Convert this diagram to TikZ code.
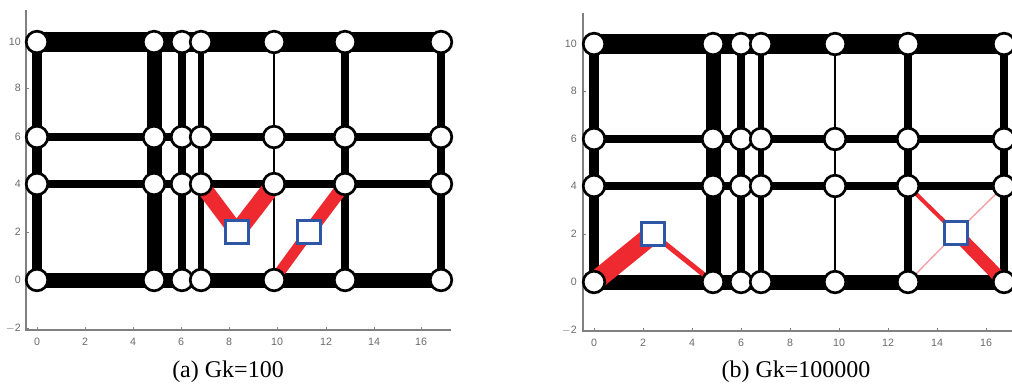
\documentclass[tikz,border=0pt]{standalone}
\usepackage{fontspec}
\setmainfont{Liberation Serif}
\setsansfont{Liberation Sans}
\usetikzlibrary{backgrounds}
\definecolor{axisgray}{HTML}{808080}
\definecolor{ticktext}{HTML}{6A6A6A}
\definecolor{barred}{HTML}{EE2A30}
\definecolor{barpink}{HTML}{F5A3A8}
\definecolor{boxblue}{HTML}{2F55A5}
\tikzset{
	gridnode/.style={circle, draw=black, fill=white, line width=2pt, minimum size=16.2pt, inner sep=0pt},
	loadbox/.style={rectangle, draw=boxblue, fill=white, line width=2.2pt, minimum size=17.6pt, inner sep=0pt},
	ticklabel/.style={font=\sffamily\fontsize{8}{9}\selectfont, text=ticktext, inner sep=0pt},
	caption/.style={font=\fontsize{18}{20}\selectfont, text=black, inner sep=0pt},
	axisline/.style={draw=axisgray, line width=0.8pt},
}
% frame members shared by both panels, widths in image pixels
\newcommand{\gridbars}[1]{%
	\foreach \r/\w in {4/20,3/8,2/8,1/15} {
		\draw[black, line width=\w*0.75pt] (#1-1-\r.center) -- (#1-7-\r.center);
	}
	\foreach \c/\w in {1/10,2/15,3/8,4/6,5/1.4,6/8,7/8} {
		\draw[black, line width=\w*0.75pt] (#1-\c-4.center) -- (#1-\c-1.center);
	}
}
\begin{document}
\begin{tikzpicture}[x=0.75pt,y=-0.75pt]
	\path[use as bounding box] (0,0) rectangle (1012,387);

	% Panel (a): axes.
	\draw[axisline] (26,10) -- (26,330) -- (451,330);
	\foreach \y/\lab in {42/10,88/8,137/6,184/4,232/2,280/0,328/{$-$2}} {
		\draw[axisline, line width=0.5pt] (26,\y) -- (29,\y);
		\node[ticklabel, anchor=east] (alab\y) at (21,\y) {\lab};
	}
	\foreach \x/\lab in {37/0,85/2,133/4,181/6,229/8,277/10,326/12,374/14,421/16} {
		\draw[axisline, line width=0.5pt] (\x,330) -- (\x,327);
		\node[ticklabel] (atick\x) at (\x,342) {\lab};
	}

	% Panel (a): joints.
	\foreach \c/\x in {1/37,2/154,3/182,4/201,5/274,6/345,7/441} {
		\foreach \r/\y in {1/280,2/184,3/137,4/42} {
			\node[gridnode] (a-\c-\r) at (\x,\y) {};
		}
	}
	\node[loadbox] (aload1) at (237,232) {};
	\node[loadbox] (aload2) at (309,232) {};
	\begin{pgfonlayer}{background}
		\gridbars{a}
		\draw[barred, line width=11.7pt] (aload1.center) -- (a-4-2.center);
		\draw[barred, line width=13pt] (aload1.center) -- (a-5-2.center);
		\draw[barred, line width=9.7pt] (aload2.center) -- (a-6-2.center);
		\draw[barred, line width=8pt] (aload2.center) -- (a-5-1.center);
	\end{pgfonlayer}
	\node[caption] (acaption) at (228,372) {(a) Gk=100};

	% Panel (b): axes.
	\draw[axisline] (583,13) -- (583,331) -- (1012,331);
	\foreach \y/\lab in {44/10,91/8,139/6,186/4,234/2,282/0,330/{$-$2}} {
		\draw[axisline, line width=0.5pt] (583,\y) -- (586,\y);
		\node[ticklabel, anchor=east] (blab\y) at (577,\y) {\lab};
	}
	\foreach \x/\lab in {594/0,643/2,692/4,741/6,790/8,839/10,888/12,937/14,986/16} {
		\draw[axisline, line width=0.5pt] (\x,331) -- (\x,328);
		\node[ticklabel] (btick\x) at (\x,343) {\lab};
	}

	% Panel (b): joints.
	\foreach \c/\x in {1/594,2/713,3/741,4/761,5/835,6/908,7/1004} {
		\foreach \r/\y in {1/282,2/186,3/139,4/44} {
			\node[gridnode] (b-\c-\r) at (\x,\y) {};
		}
	}
	\node[loadbox] (bload1) at (653,234) {};
	\node[loadbox] (bload2) at (956,233) {};
	\begin{pgfonlayer}{background}
		\gridbars{b}
		\draw[barred, line width=14.5pt] (bload1.center) -- (b-1-1.center);
		\draw[barred, line width=3.8pt] (bload1.center) -- (b-2-1.center);
		\draw[barred, line width=3pt] (bload2.center) -- (b-6-2.center);
		\draw[barpink, line width=1.1pt] (bload2.center) -- (b-7-2.center);
		\draw[barpink, line width=1.1pt] (bload2.center) -- (b-6-1.center);
		\draw[barred, line width=9.5pt] (bload2.center) -- (b-7-1.center);
	\end{pgfonlayer}
	\node[caption] (bcaption) at (796,372) {(b) Gk=100000};
\end{tikzpicture}
\end{document}
